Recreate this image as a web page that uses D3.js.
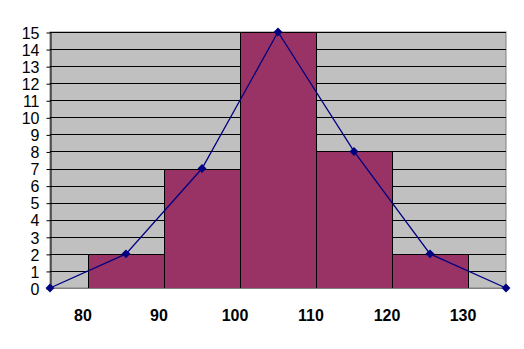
<!DOCTYPE html>
<html>
<head>
<meta charset="utf-8">
<script src="https://cdn.jsdelivr.net/npm/d3@7"></script>
<style>
  body { margin: 0; background: #fff; }
  text { font-family: "Liberation Sans", Arial, sans-serif; }
</style>
</head>
<body>
<svg id="chart" width="524" height="349"></svg>
<script>
// histogram classes (lower edge) and counts
let binStarts = [80, 90, 100, 110, 120];
let binWidth = 10;
let counts = [2, 7, 15, 8, 2];

// frequency polygon points (class midpoints, padded with zeros)
let polyX = [75, 85, 95, 105, 115, 125, 135];
let polyY = [0, 2, 7, 15, 8, 2, 0];

let xTickLabels = [80, 90, 100, 110, 120, 130];
let yTicks = d3.range(0, 16);

let svg = d3.select("#chart");
let plotLeft = 50, plotRight = 506, plotTop = 32, plotBottom = 288;

let x = d3.scaleLinear().domain([75, 135]).range([plotLeft, plotRight]);
let y = d3.scaleLinear().domain([0, 15]).range([plotBottom, plotTop]);

// plot background
svg.append("rect")
  .attr("x", plotLeft).attr("y", plotTop)
  .attr("width", plotRight - plotLeft).attr("height", plotBottom - plotTop)
  .attr("fill", "#c0c0c0")
  .attr("stroke", "#808080")
  .attr("stroke-width", 1);

// horizontal gridlines
svg.append("g").selectAll("line").data(yTicks.slice(1)).enter()
  .append("line")
  .attr("x1", plotLeft).attr("x2", plotRight)
  .attr("y1", d => Math.round(y(d)) + 0.5)
  .attr("y2", d => Math.round(y(d)) + 0.5)
  .attr("stroke", "#000")
  .attr("stroke-width", 1);

// bars
svg.append("g").selectAll("rect").data(binStarts).enter()
  .append("rect")
  .attr("x", d => Math.round(x(d)) + 0.5)
  .attr("width", d => Math.round(x(d + binWidth)) - Math.round(x(d)))
  .attr("y", (d, i) => Math.round(y(counts[i])) + 0.5)
  .attr("height", (d, i) => Math.round(y(0)) - Math.round(y(counts[i])))
  .attr("fill", "#993366")
  .attr("stroke", "#000")
  .attr("stroke-width", 1);

// y axis
let yAxis = d3.axisLeft(y).tickValues(yTicks).tickSize(4).tickSizeOuter(0);
let gy = svg.append("g").attr("transform", `translate(${plotLeft + 0.5},0.5)`).call(yAxis);
gy.select(".domain").attr("stroke", "#000");
gy.selectAll(".tick line").attr("stroke", "#000");
gy.selectAll("text")
  .attr("x", -11)
  .attr("dy", "0.36em")
  .style("font-size", "16px")
  .style("font-family", "'Liberation Sans', Arial, sans-serif")
  .attr("fill", "#000");

// x axis line
svg.append("line")
  .attr("x1", plotLeft).attr("x2", plotRight)
  .attr("y1", plotBottom + 0.5).attr("y2", plotBottom + 0.5)
  .attr("stroke", "#808080");

// x labels
svg.append("g").selectAll("text").data(xTickLabels).enter()
  .append("text")
  .attr("x", d => x(d) - 5)
  .attr("y", 321)
  .attr("text-anchor", "middle")
  .style("font-size", "16px")
  .style("font-weight", "bold")
  .text(d => d);

// frequency polygon
let pts = polyX.map((d, i) => [x(d), y(polyY[i])]);
svg.append("path")
  .attr("d", d3.line()(pts))
  .attr("fill", "none")
  .attr("stroke", "#000080")
  .attr("stroke-width", 1.3);

svg.append("g").selectAll("path").data(pts).enter()
  .append("path")
  .attr("d", d3.symbol().type(d3.symbolDiamond2).size(50))
  .attr("transform", d => `translate(${d[0]},${d[1]})`)
  .attr("fill", "#000080");
</script>
</body>
</html>
